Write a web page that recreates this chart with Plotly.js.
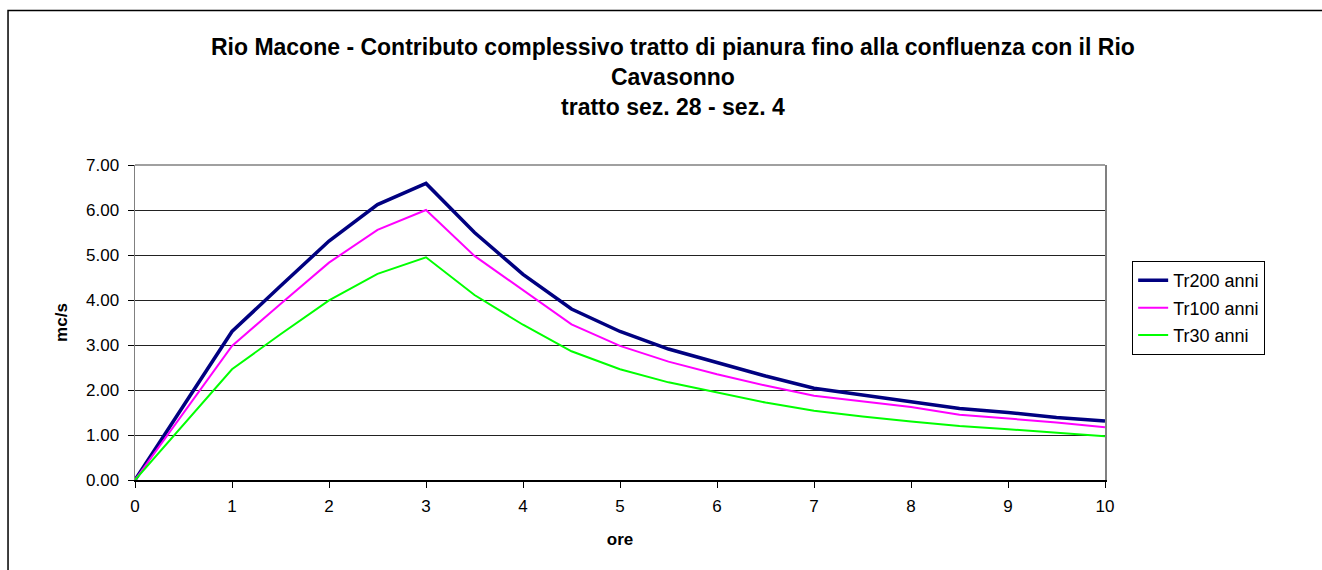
<!DOCTYPE html>
<html>
<head>
<meta charset="utf-8">
<script src="https://cdn.plot.ly/plotly-3.0.1.min.js"></script>
<style>html,body{margin:0;padding:0;background:#fff;}#chart{width:1322px;height:570px;}</style>
</head>
<body>
<div id="chart"></div>
<script>
var ore = [0, 1, 1.5, 2, 2.5, 3, 3.5, 4, 4.5, 5, 5.5, 6, 6.5, 7, 7.5, 8, 8.5, 9, 9.5, 10];
var tr200 = [0, 3.30, 4.31, 5.31, 6.12, 6.59, 5.50, 4.57, 3.80, 3.30, 2.91, 2.60, 2.31, 2.04, 1.89, 1.74, 1.59, 1.50, 1.39, 1.31];
var tr100 = [0, 2.98, 3.91, 4.83, 5.56, 6.00, 4.98, 4.22, 3.46, 2.98, 2.63, 2.35, 2.10, 1.87, 1.74, 1.62, 1.45, 1.37, 1.28, 1.17];
var tr30  = [0, 2.46, 3.24, 3.99, 4.58, 4.95, 4.11, 3.45, 2.86, 2.46, 2.17, 1.94, 1.72, 1.54, 1.41, 1.30, 1.20, 1.13, 1.05, 0.97];
var seriesNames = ['Tr200 anni', 'Tr100 anni', 'Tr30 anni'];
var yTicks = [0, 1, 2, 3, 4, 5, 6, 7];
var xTicks = [0, 1, 2, 3, 4, 5, 6, 7, 8, 9, 10];
var titleText = 'Rio Macone - Contributo complessivo tratto di pianura fino alla confluenza con il Rio<br>Cavasonno<br>tratto sez. 28 - sez. 4';

var FONT = 'Liberation Sans, Arial, sans-serif';
var traces = [
  {x: ore, y: tr200, name: seriesNames[0], mode: 'lines', line: {color: '#000080', width: 3.5}, legendgroup: 'a'},
  {x: ore, y: tr100, name: seriesNames[1], mode: 'lines', line: {color: '#FF00FF', width: 2}, legendgroup: 'b'},
  {x: ore, y: tr30,  name: seriesNames[2], mode: 'lines', line: {color: '#00FF00', width: 2}, legendgroup: 'c'}
];

var layout = {
  width: 1322, height: 570,
  paper_bgcolor: '#ffffff', plot_bgcolor: '#ffffff',
  margin: {l: 135, r: 217, t: 165, b: 90},
  font: {family: FONT, size: 17, color: '#000'},
  title: {text: '<b>' + titleText + '</b>', font: {family: FONT, size: 23, color: '#000'},
          xref: 'container', x: 0.509, xanchor: 'center', yref: 'container', y: 1 - 55/570, yanchor: 'top'},
  xaxis: {range: [0, 10], tickvals: xTicks, ticktext: xTicks.map(String), showgrid: false,
          showline: true, linecolor: '#000', linewidth: 1.5, ticks: 'outside', ticklen: 6, tickcolor: '#000',
          ticklabelstandoff: 4,
          tickfont: {family: FONT, size: 17}, zeroline: false,
          title: {text: '<b>ore</b>', font: {family: FONT, size: 17}, standoff: 18}},
  yaxis: {range: [0, 7], tickvals: yTicks, ticktext: yTicks.map(function(v){return v.toFixed(2);}),
          showgrid: true, gridcolor: '#222', gridwidth: 1, zeroline: false,
          showline: true, linecolor: '#808080', linewidth: 1.5, mirror: true,
          ticks: 'outside', ticklen: 6, tickcolor: '#000', ticklabelstandoff: 5,
          tickfont: {family: FONT, size: 17},
          title: {text: '<b>mc/s</b>', font: {family: FONT, size: 17}, standoff: 14}},
  showlegend: true,
  legend: {x: 1.028, xanchor: 'left', y: 0.695, yanchor: 'top', bordercolor: '#000', borderwidth: 1,
           bgcolor: '#fff', font: {family: FONT, size: 18}, traceorder: 'grouped', tracegroupgap: 1},
  shapes: [
    {type: 'rect', xref: 'paper', yref: 'paper', x0: -0.1309, x1: 1.25, y0: -0.4, y1: (480-10.5)/315,
     line: {color: '#000', width: 1.5}, fillcolor: 'rgba(0,0,0,0)', layer: 'below'},
    {type: 'line', xref: 'paper', yref: 'paper', x0: 0, x1: 1, y0: 1, y1: 1, line: {color: '#808080', width: 1.5}}
  ]
};

Plotly.newPlot('chart', traces, layout, {displayModeBar: false, staticPlot: true});
</script>
</body>
</html>
